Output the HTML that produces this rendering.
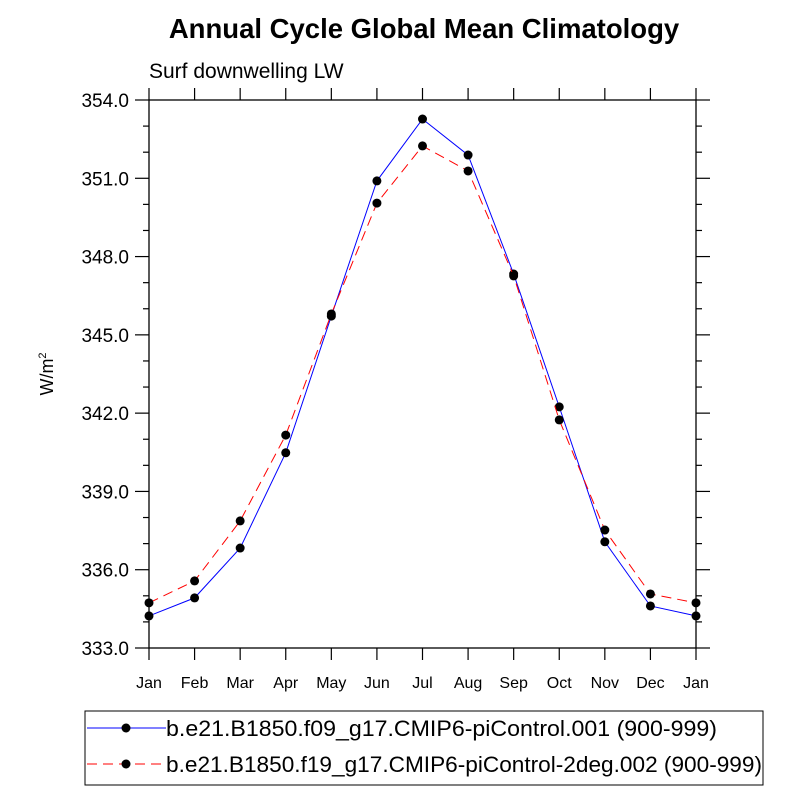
<!DOCTYPE html>
<html><head><meta charset="utf-8"><style>body{margin:0;background:#fff}svg{display:block;font-family:"Liberation Sans",sans-serif}</style></head>
<body>
<svg id="c" width="800" height="800" xmlns="http://www.w3.org/2000/svg">
<text x="424" y="38" font-size="27.5" font-weight="bold" text-anchor="middle">Annual Cycle Global Mean Climatology</text>
<text x="149" y="78" font-size="21">Surf downwelling LW</text>
<text transform="translate(53,374) rotate(-90)" font-size="18" text-anchor="middle">W/m<tspan font-size="11" dy="-7">2</tspan></text>
<g id="ax"></g>
<g id="series"></g>
<g>
<rect x="85" y="711" width="678" height="74" fill="none" stroke="#000" stroke-width="1"/>
<g><line x1="87" y1="728" x2="166" y2="728" stroke="#00f"/><circle cx="126" cy="728" r="4.5"/><text x="166" y="736" font-size="22.6" textLength="551" lengthAdjust="spacingAndGlyphs">b.e21.B1850.f09_g17.CMIP6-piControl.001 (900-999)</text></g>
<g><line x1="87" y1="764" x2="166" y2="764" stroke="#f00" stroke-dasharray="10,6"/><circle cx="126" cy="764" r="4.5"/><text x="166" y="772" font-size="22.6" textLength="596" lengthAdjust="spacingAndGlyphs">b.e21.B1850.f19_g17.CMIP6-piControl-2deg.002 (900-999)</text></g>
</g>
</svg>
<script>
const months=["Jan","Feb","Mar","Apr","May","Jun","Jul","Aug","Sep","Oct","Nov","Dec","Jan"];
const yTicks=[333,336,339,342,345,348,351,354];
const series1=[334.23,334.92,336.83,340.48,345.72,350.90,353.27,351.89,347.33,342.24,337.07,334.61,334.23];
const series2=[334.73,335.57,337.87,341.16,345.80,350.05,352.24,351.28,347.26,341.74,337.52,335.07,334.73];
const NS="http://www.w3.org/2000/svg";
const L=149,R=696,T=100,B=648,ymin=333,ymax=354;
const xs=i=>L+(R-L)*i/(months.length-1);
const ys=v=>B-(v-ymin)/(ymax-ymin)*(B-T);
function mk(tag,a,p){const e=document.createElementNS(NS,tag);for(const k in a)e.setAttribute(k,a[k]);p.appendChild(e);return e;}
const ax=document.getElementById('ax');
const frame=mk('rect',{x:L,y:T,width:R-L,height:B-T,fill:'none',stroke:'#000','stroke-width':1.3},ax);


for(let v=ymin;v<=ymax;v++){const y=ys(v);const maj=(v-ymin)%3===0;const len=maj?14:6;
mk('line',{x1:L-len,x2:L,y1:y,y2:y,stroke:'#000','stroke-width':1.2},ax);
mk('line',{x1:R,x2:R+len,y1:y,y2:y,stroke:'#000','stroke-width':1.2},ax);}
yTicks.forEach(v=>{const t=mk('text',{x:L-20,y:ys(v)+7,'font-size':19,'text-anchor':'end'},ax);t.textContent=v.toFixed(1);

});
months.forEach((m,i)=>{const x=xs(i);
mk('line',{x1:x,x2:x,y1:B,y2:B+12,stroke:'#000','stroke-width':1.2},ax);
mk('line',{x1:x,x2:x,y1:T-12,y2:T,stroke:'#000','stroke-width':1.2},ax);
const t=mk('text',{x:x,y:B+40,'font-size':16,'text-anchor':'middle'},ax);t.textContent=m;

});
const sg=document.getElementById('series');
function draw(d,col,dash,name){const g=mk('g',{},sg);


const a={points:d.map((v,i)=>xs(i)+','+ys(v)).join(' '),fill:'none',stroke:col,'stroke-width':1};if(dash)a['stroke-dasharray']=dash;mk('polyline',a,g);
d.forEach((v,i)=>{const c=mk('circle',{cx:xs(i),cy:ys(v),r:4.5,fill:'#000'},g);

});}
draw(series1,'#00f',null,'series-f09');
draw(series2,'#f00','10,6','series-f19');
</script>
</body></html>
